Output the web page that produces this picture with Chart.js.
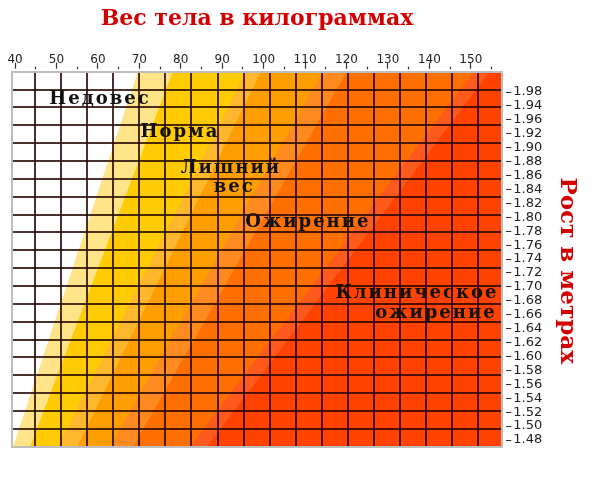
<!DOCTYPE html>
<html><head><meta charset="utf-8">
<script src="https://cdn.jsdelivr.net/npm/chart.js@4/dist/chart.umd.min.js"></script>
<style>html,body{margin:0;padding:0;background:#fff}#w{width:601px;height:480px}</style>
</head><body><div id="w"><canvas id="c"></canvas></div>
<script>
// ---- data ----
const weightLabels = [40, 50, 60, 70, 80, 90, 100, 110, 120, 130, 140, 150];
const weightTicks = [40, 45, 50, 55, 60, 65, 70, 75, 80, 85, 90, 95, 100, 105, 110, 115, 120, 125, 130, 135, 140, 145, 150, 155];
const heightTickValues = [1.98, 1.96, 1.94, 1.92, 1.90, 1.88, 1.86, 1.84, 1.82, 1.80, 1.78, 1.76, 1.74, 1.72, 1.70, 1.68, 1.66, 1.64, 1.62, 1.60, 1.58, 1.56, 1.54, 1.52, 1.50, 1.48];
const heightTickLabels = ['1.98', '1.94', '1.96', '1.92', '1.90', '1.88', '1.86', '1.84', '1.82', '1.80', '1.78', '1.76', '1.74', '1.72', '1.70', '1.68', '1.66', '1.64', '1.62', '1.60', '1.58', '1.56', '1.54', '1.52', '1.50', '1.48'];

// heights (m) at which the band edges were read: bottom and top of the chart
const edgeHeights = [1.47, 2.01];
// weight (kg) where each colour band starts, at [bottom, top]
const lightYellowStart = [39.5, 69.7];
const yellowStart = [43.6, 78.1];
const goldStripeStart = [50.4, 95.8];
const amberStart = [55.0, 99.4];
const orangeStripeStart = [62.9, 114.3];
const orangeStart = [68.5, 120.1];
const redStripeStart = [82.2, 150.8];
const redStart = [86.3, 154.7];

const zoneLines = ['Недовес', 'Норма', 'Лишний', 'вес', 'Ожирение', 'Клиническое', 'ожирение'];
// [weight, height] anchor of each zone text line
const zoneAnchors = [[60.5, 1.969], [79.8, 1.9225], [92.1, 1.871], [92.9, 1.8435], [110.7, 1.793], [137.0, 1.691], [141.6, 1.6625]];

// ---- styling / layout ----
const X_MIN = 39.2, X_MAX = 157.6, Y_MIN = 1.4704, Y_MAX = 2.0092;
const bandEdges = [lightYellowStart, yellowStart, goldStripeStart, amberStart, orangeStripeStart, orangeStart, redStripeStart, redStart];
const bandColors = ['#FFE48A', '#FFCB05', '#FFB72E', '#FF9E00', '#FF8A1F', '#FF7000', '#FF5A1E', '#FF4200'];
const GRID = 'rgba(35,5,0,0.82)';
const FRAME = '#bdbdbd';

const datasets = bandEdges.map((e, i) => ({
  data: [
    {x: e[0], y: edgeHeights[0]},
    {x: e[1], y: edgeHeights[1]},
    {x: X_MAX + 10, y: edgeHeights[1]},
    {x: X_MAX + 10, y: edgeHeights[0]}
  ],
  backgroundColor: bandColors[i],
  borderColor: bandColors[i],
  borderWidth: 0,
  pointRadius: 0,
  fill: 'shape',
  tension: 0,
  order: bandEdges.length - i,
  xAxisID: 'x',
  yAxisID: 'y'
}));

const zoneLabelPlugin = {
  id: 'zoneLabels',
  afterDraw(chart) {
    const {ctx} = chart;
    const x = chart.scales.x, y = chart.scales.y;
    ctx.save();
    ctx.font = 'bold 18px "DejaVu Serif"';
    ctx.fillStyle = '#111';
    ctx.textAlign = 'center';
    ctx.textBaseline = 'middle';
    ctx.letterSpacing = '2px';
    zoneLines.forEach((t, i) => {
      const p = zoneAnchors[i];
      ctx.fillText(t, x.getPixelForValue(p[0]), y.getPixelForValue(p[1]));
    });
    ctx.restore();
  }
};

new Chart(document.getElementById('c'), {
  type: 'line',
  data: {datasets},
  plugins: [zoneLabelPlugin],
  options: {
    responsive: true,
    maintainAspectRatio: false,
    animation: false,
    events: [],
    layout: {padding: {left: 11.7, right: 0, top: 0, bottom: 33.3}},
    plugins: {legend: {display: false}, tooltip: {enabled: false}},
    scales: {
      x: {
        type: 'linear', position: 'top', min: X_MIN, max: X_MAX,
        afterBuildTicks: s => { s.ticks = weightTicks.map(v => ({value: v})); },
        ticks: {
          autoSkip: false, maxRotation: 0, minRotation: 0, padding: -3, color: '#222',
          font: {family: 'DejaVu Sans', size: 12, lineHeight: 1},
          callback: v => weightLabels.includes(v) ? String(v) : ''
        },
        grid: {
          drawOnChartArea: false, tickLength: 9, tickColor: '#333', tickWidth: 1.2, z: 1,
          tickBorderDash: c => (c.tick && weightLabels.includes(c.tick.value)) ? [6, 20] : [0, 4, 2.5, 20]
        },
        border: {display: true, color: FRAME, width: 2, z: 2},
        title: {
          display: true, text: 'Вес тела в килограммах', color: '#d40000',
          font: {family: 'DejaVu Serif', weight: 'bold', size: 22, lineHeight: 1.2},
          padding: {top: 6, bottom: 0}
        },
        afterFit: s => { s.height = 71.7; }
      },
      y: {
        type: 'linear', position: 'right', min: Y_MIN, max: Y_MAX,
        afterBuildTicks: s => { s.ticks = heightTickValues.slice().reverse().map(v => ({value: v})); },
        ticks: {
          autoSkip: false, padding: 2, color: '#222',
          font: {family: 'DejaVu Sans', size: 13, lineHeight: 1},
          callback: v => heightTickLabels[heightTickValues.indexOf(v)]
        },
        grid: {drawOnChartArea: false, tickLength: 9, tickColor: '#333', tickWidth: 1.2, tickBorderDash: [0, 3, 6, 20], z: 1},
        border: {display: true, color: FRAME, width: 2, z: 2},
        title: {
          display: true, text: '\u2003Рост в метрах', color: '#d40000',
          font: {family: 'DejaVu Serif', weight: 'bold', size: 23, lineHeight: 1.2},
          padding: {top: 20, bottom: 0}
        },
        afterFit: s => { s.width = s.chart.width - 502.3; }
      },
      x2: {
        type: 'linear', position: 'bottom', min: 6.107, max: 24.92,
        ticks: {display: false, stepSize: 1, includeBounds: false},
        grid: {color: GRID, lineWidth: 2, drawTicks: false, z: 1},
        border: {display: true, color: FRAME, width: 2, z: 2},
        afterFit: s => { s.height = 0; }
      },
      y2: {
        type: 'linear', position: 'left', min: 58, max: 79,
        ticks: {display: false, stepSize: 1, includeBounds: false},
        grid: {
          color: c => (c.tick && (c.tick.value === 58 || c.tick.value === 79)) ? 'rgba(0,0,0,0)' : GRID,
          lineWidth: 2, drawTicks: false, z: 1
        },
        border: {display: true, color: FRAME, width: 2, z: 2},
        afterFit: s => { s.width = 0; }
      }
    }
  }
});
</script>
</body></html>
